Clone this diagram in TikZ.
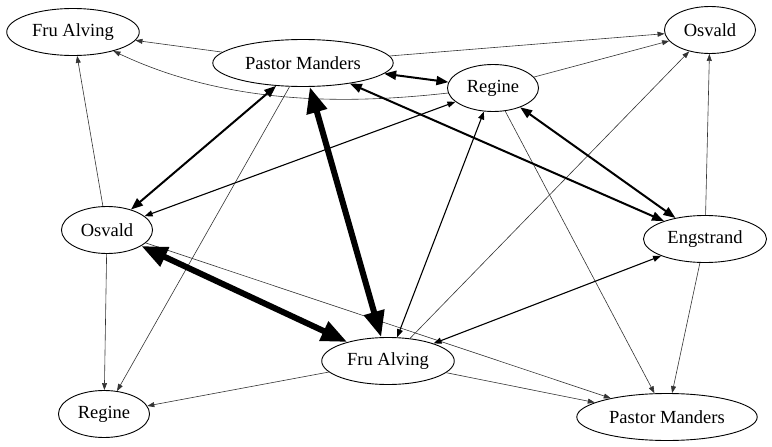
\documentclass[tikz,border=0pt]{standalone}
\usepackage{fontspec}
\setmainfont{Liberation Serif}
\usetikzlibrary{arrows.meta,shapes.geometric}
\tikzset{
  person/.style={ellipse, draw, line width=0.9pt, minimum height=47pt, inner xsep=6pt, font=\fontsize{18.5}{20}\selectfont, fill=white},
  faint/.style={-{Triangle[length=7pt,width=5pt]}, line width=0.6pt, draw=black!80},
  plain/.style={{Triangle[length=8pt,width=6pt]}-{Triangle[length=8pt,width=6pt]}, line width=1.1pt},
  bold/.style={{Triangle[length=12pt,width=9pt]}-{Triangle[length=12pt,width=9pt]}, line width=2pt},
  heavy/.style={{Triangle[length=26pt,width=20pt]}-{Triangle[length=26pt,width=20pt]}, line width=6pt}
}
\begin{document}
\begin{tikzpicture}[x=1pt,y=-1pt]
  \useasboundingbox (0,0) rectangle (772,447);
  \node[person] (fa1) at (73,32) {Fru Alving};
  \node[person] (pm1) at (303,63) {Pastor Manders};
  \node[person] (reg1) at (493,88) {Regine};
  \node[person] (osv1) at (710,30) {Osvald};
  \node[person] (osv2) at (107,230) {Osvald};
  \node[person] (eng) at (705,239) {Engstrand};
  \node[person] (fa2) at (388,361) {Fru Alving};
  \node[person] (reg2) at (104,414) {Regine};
  \node[person] (pm2) at (667,417) {Pastor Manders};
  % one-way links
  \draw[faint] (pm1) -- (fa1);
  \draw[faint] (reg1) .. controls (350,104) and (230,106) .. (fa1);
  \draw[faint] (osv2) -- (fa1);
  \draw[faint] (pm1) -- (osv1);
  \draw[faint] (reg1) -- (osv1);
  \draw[faint] (fa2) -- (osv1);
  \draw[faint] (eng) -- (osv1);
  \draw[faint] (osv2) -- (reg2);
  \draw[faint] (pm1) -- (reg2);
  \draw[faint] (fa2) -- (reg2);
  \draw[faint] (fa2) -- (pm2);
  \draw[faint] (osv2) -- (pm2);
  \draw[faint] (reg1) -- (pm2);
  \draw[faint] (eng) -- (pm2);
  % two-way links
  \draw[plain] (osv2) -- (reg1);
  \draw[plain] (fa2) -- (reg1);
  \draw[plain] (fa2) -- (eng);
  \draw[bold] (pm1) -- (reg1);
  \draw[bold] (pm1) -- (osv2);
  \draw[bold] (pm1) -- (eng);
  \draw[bold] (reg1) -- (eng);
  \draw[heavy] (pm1) -- (fa2);
  \draw[heavy] (osv2) -- (fa2);
\end{tikzpicture}
\end{document}
